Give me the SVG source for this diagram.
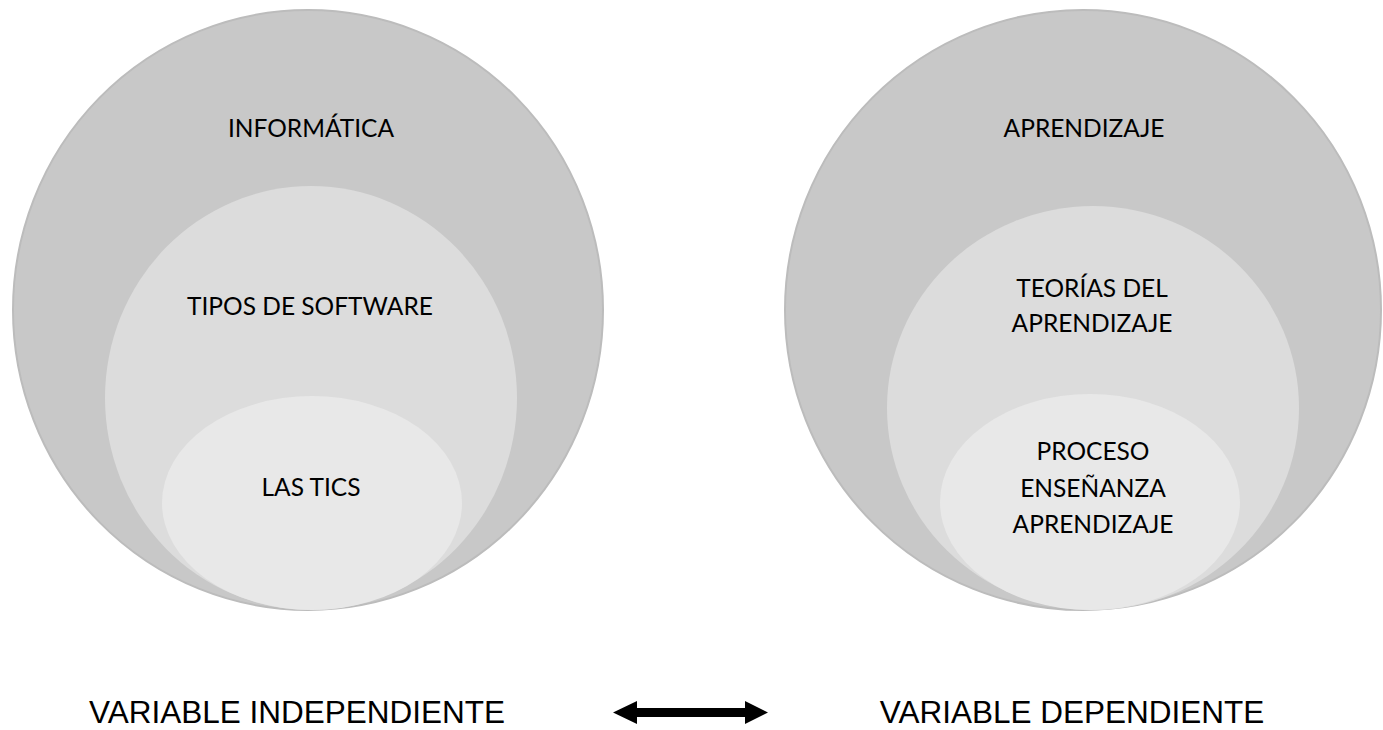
<svg xmlns="http://www.w3.org/2000/svg" width="1383" height="730" viewBox="0 0 1383 730">
  <style>
    .outer { fill: #c8c8c8; stroke: #bcbcbc; stroke-width: 2; }
    .middle { fill: #dcdcdc; }
    .inner { fill: #e8e8e8; }
    .lbl { font-family: Lato, "Liberation Sans", sans-serif; font-size: 24.5px; fill: #000; text-anchor: middle; }
    .var { font-family: "Liberation Sans", Arial, sans-serif; font-size: 31.5px; fill: #000; text-anchor: middle; }
  </style>
  <rect width="1383" height="730" fill="#ffffff"/>

  <!-- Independent variable: nested circles -->
  <g id="informatica">
    <ellipse class="outer" cx="308" cy="310" rx="295" ry="300"/>
    <text class="lbl" x="311" y="137">INFORMÁTICA</text>
  </g>
  <g id="tipos-software">
    <ellipse class="middle" cx="311" cy="398" rx="206" ry="212"/>
    <text class="lbl" x="310" y="315">TIPOS DE SOFTWARE</text>
  </g>
  <g id="las-tics">
    <ellipse class="inner" cx="312" cy="503" rx="150" ry="107"/>
    <text class="lbl" x="311" y="496">LAS TICS</text>
  </g>

  <!-- Dependent variable: nested circles -->
  <g id="aprendizaje">
    <ellipse class="outer" cx="1083" cy="310" rx="298" ry="300"/>
    <text class="lbl" x="1084" y="137">APRENDIZAJE</text>
  </g>
  <g id="teorias">
    <ellipse class="middle" cx="1093" cy="408" rx="206" ry="202"/>
    <text class="lbl" x="1092" y="297">TEORÍAS DEL</text>
    <text class="lbl" x="1092" y="332">APRENDIZAJE</text>
  </g>
  <g id="proceso">
    <ellipse class="inner" cx="1090" cy="502" rx="150" ry="108"/>
    <text class="lbl" x="1093" y="460">PROCESO</text>
    <text class="lbl" x="1093" y="497">ENSEÑANZA</text>
    <text class="lbl" x="1093" y="533">APRENDIZAJE</text>
  </g>

  <!-- Variable captions -->
  <g id="var-independiente">
    <text class="var" x="297" y="723">VARIABLE INDEPENDIENTE</text>
  </g>
  <g id="var-dependiente">
    <text class="var" x="1072" y="723">VARIABLE DEPENDIENTE</text>
  </g>

  <!-- Double-headed arrow between the variables -->
  <g id="connectors">
    <polygon fill="#000" points="613,712.5 637,701 637,708 745,708 745,701 768,712.5 745,724 745,717 637,717 637,724"/>
  </g>
</svg>
